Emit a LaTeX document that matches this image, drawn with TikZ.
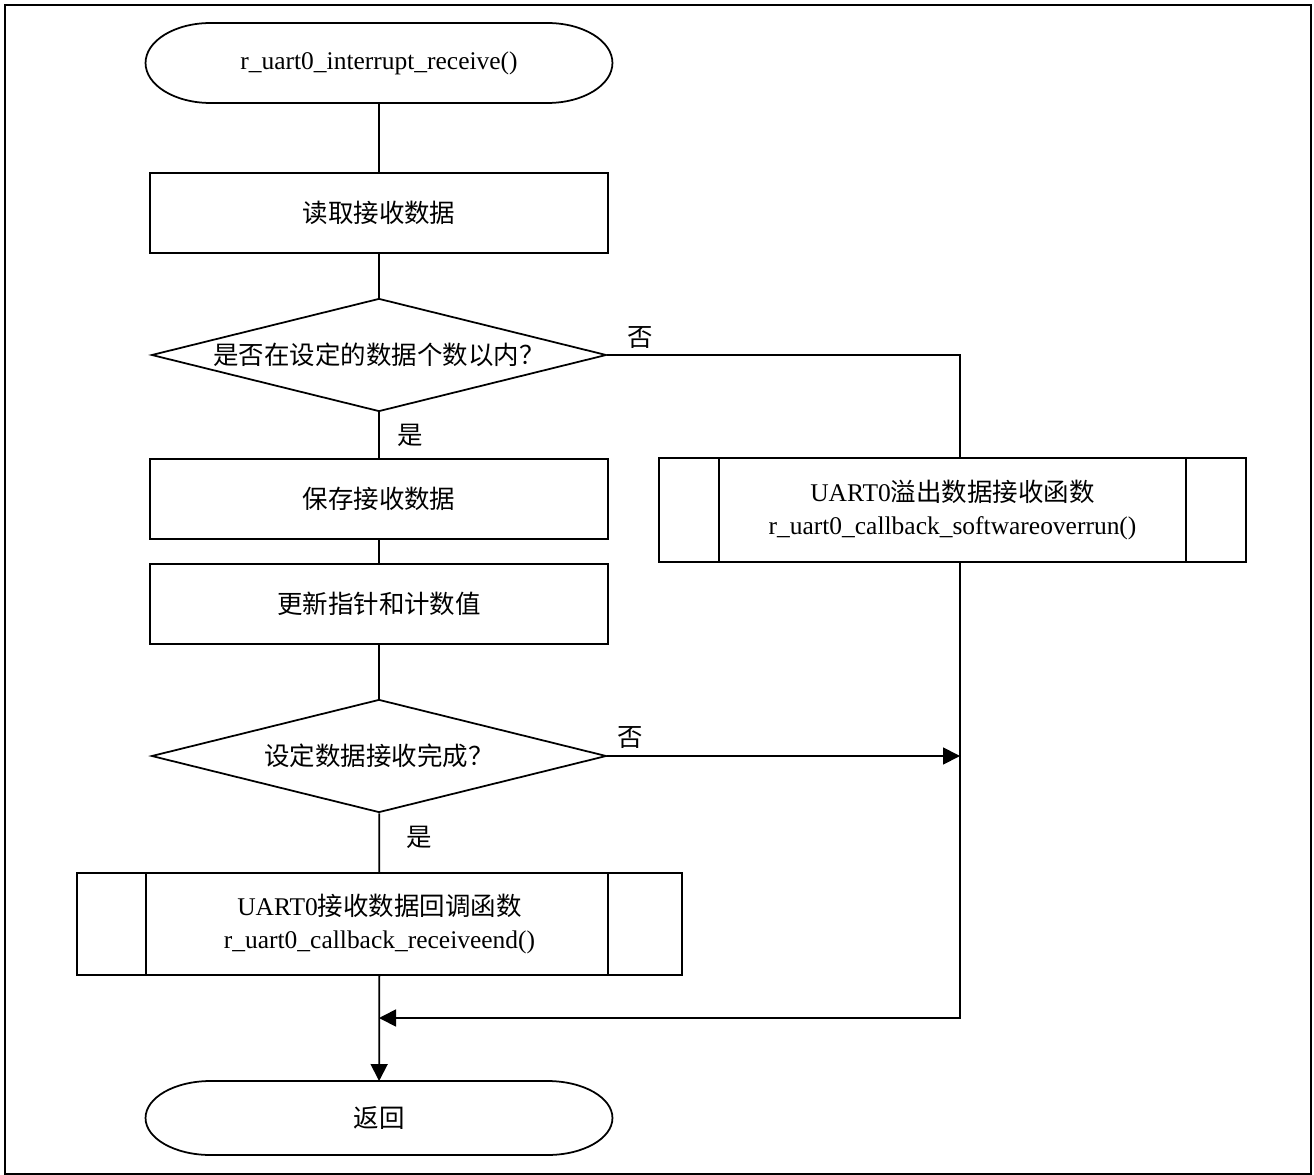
\documentclass[tikz,border=0pt]{standalone}
\usepackage{fontspec}
\setmainfont{Liberation Serif}
\newfontfamily\cjk{Noto Sans CJK SC}
\usetikzlibrary{shapes.geometric,arrows.meta}

% outline of a start/end terminal around a plain node
\newcommand{\termline}[2]{%
  \draw ([xshift=1.3cm]#1.north west) -- ([xshift=-1.3cm]#1.north east)
    arc[start angle=90,end angle=-90,x radius=1.3cm,y radius=#2]
    -- ([xshift=1.3cm]#1.south west)
    arc[start angle=270,end angle=90,x radius=1.3cm,y radius=#2] -- cycle;}

\begin{document}
\begin{tikzpicture}[x=0.02cm,y=0.02cm,line width=1pt,
  every node/.style={font=\fontsize{14.5}{19}\selectfont},
  proc/.style={draw,minimum width=9.16cm,minimum height=1.6cm,inner sep=0},
  subproc/.style={draw,align=center,inner sep=0},
  decide/.style={draw,diamond,aspect=4.03,minimum width=9.1cm,minimum height=2.26cm,inner sep=0},
  term/.style={minimum width=9.34cm,inner sep=0,outer sep=0},
  >={Triangle[length=0.34cm,width=0.34cm]}]
  \useasboundingbox (0,0) rectangle (1314,-1175);
  \draw[line width=1.3pt] (5,-5) rectangle (1311,-1174);

  \node[term,minimum height=1.6cm] (start) at (379,-63) {r\_uart0\_interrupt\_receive()};
  \termline{start}{0.8cm}
  \node[proc] (read) at (379,-213) {\cjk 读取接收数据};
  \node[decide] (dec1) at (379,-355) {\cjk 是否在设定的数据个数以内？};
  \node[proc] (save) at (379,-499) {\cjk 保存接收数据};
  \node[proc] (upd) at (379,-604) {\cjk 更新指针和计数值};
  \node[decide] (dec2) at (379,-756) {\cjk 设定数据接收完成？};
  \node[subproc,minimum width=12.1cm,minimum height=2.04cm] (cb) at (379.5,-924)
    {UART0{\cjk 接收数据回调函数}\\r\_uart0\_callback\_receiveend()};
  \draw ([xshift=1.4cm]cb.north west) -- ([xshift=1.4cm]cb.south west);
  \draw ([xshift=-1.5cm]cb.north east) -- ([xshift=-1.5cm]cb.south east);
  \node[subproc,minimum width=11.74cm,minimum height=2.08cm] (over) at (952.5,-510)
    {UART0{\cjk 溢出数据接收函数}\\r\_uart0\_callback\_softwareoverrun()};
  \draw ([xshift=1.22cm]over.north west) -- ([xshift=1.22cm]over.south west);
  \draw ([xshift=-1.22cm]over.north east) -- ([xshift=-1.22cm]over.south east);
  \node[term,minimum height=1.48cm] (ret) at (379,-1118) {\cjk 返回};
  \termline{ret}{0.74cm}

  \node (no1) at (640,-338) {\cjk 否};
  \node (yes1) at (410,-435) {\cjk 是};
  \node (no2) at (630,-738) {\cjk 否};
  \node (yes2) at (419,-837) {\cjk 是};

  \coordinate (hit) at (960,-756);
  \coordinate (join) at (379,-1018);

  \draw (start) -- (read);
  \draw (read) -- (dec1);
  \draw (dec1) -- (save);
  \draw (save) -- (upd);
  \draw (upd) -- (dec2);
  \draw (dec2) -- (cb);
  \draw[->] (cb) -- (ret);
  \draw (dec1.east) -| ([xshift=0.15cm]over.north);
  \draw[->] (dec2.east) -- (hit);
  \draw[->] ([xshift=0.15cm]over.south) |- (join);
\end{tikzpicture}
\end{document}
